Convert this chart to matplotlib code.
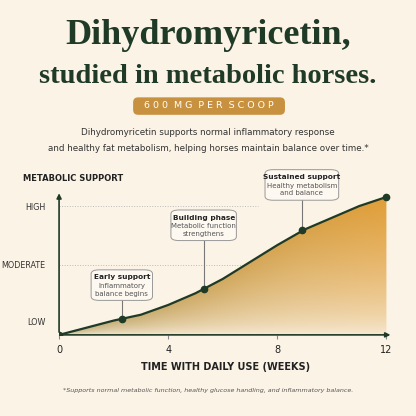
import numpy as np
import matplotlib.pyplot as plt
from matplotlib.patches import FancyBboxPatch, Polygon

weeks = [0, 1, 2, 3, 4, 5, 6, 7, 8, 9, 10, 11, 12]
support = [0, 0.55, 1.1, 1.55, 2.3, 3.2, 4.3, 5.6, 6.9, 8.1, 9.0, 9.9, 10.6]
marker_x = [0, 2.3, 5.3, 8.9, 12]
marker_y = [0, 1.2, 3.5, 8.1, 10.6]
level_labels = ['LOW', 'MODERATE', 'HIGH']
level_values = [1.0, 5.4, 9.9]
x_ticks = [0, 4, 8, 12]
# title, body, point x, point y, box top, box width
notes = [('Early support', 'Inflammatory\nbalance begins', 2.3, 1.2, 5.0, 2.25),
         ('Building phase', 'Metabolic function\nstrengthens', 5.3, 3.5, 9.6, 2.4),
         ('Sustained support', 'Healthy metabolism\nand balance', 8.9, 8.1, 12.7, 2.7)]

BG = '#FBF3E6'
GREEN = '#1F3A26'
GOLD = '#C8913F'

fig = plt.figure(figsize=(4.16, 4.16), dpi=100, facecolor=BG)
fig.text(0.5, 0.915, 'Dihydromyricetin,', ha='center', va='center', family='Liberation Serif',
         fontsize=26, color=GREEN, fontweight='bold')
fig.text(0.5, 0.815, 'studied in metabolic horses.', ha='center', va='center', family='Liberation Serif',
         fontsize=20.5, color=GREEN, fontweight='bold')
fig.patches.append(FancyBboxPatch((0.32, 0.724), 0.365, 0.042, boxstyle='round,pad=0,rounding_size=0.012',
                                  transform=fig.transFigure, facecolor=GOLD, edgecolor='none'))
fig.text(0.503, 0.746, '6 0 0  M G  P E R  S C O O P', ha='center', va='center', fontsize=6.8,
         color='white')
fig.text(0.5, 0.682, 'Dihydromyricetin supports normal inflammatory response', ha='center', va='center',
         fontsize=6.3, color='#333333')
fig.text(0.5, 0.643, 'and healthy fat metabolism, helping horses maintain balance over time.*', ha='center',
         va='center', fontsize=6.3, color='#333333')

ax = fig.add_axes([0.142, 0.195, 0.80, 0.344])
ax.set_facecolor(BG)
ax.set_xlim(0, 12.2)
ax.set_ylim(0, 11)
for s in ax.spines.values():
    s.set_visible(False)

# gradient fill under curve: hue shifts tan -> orange, fades toward the bottom
n = 256
gx = np.linspace(0, 12, n)
gy = np.linspace(0, 10.6, n)
X, Y = np.meshgrid(gx, gy)
top = np.maximum(np.interp(X, weeks, support), 0.3)
depth = np.clip(Y / top, 0, 1) ** 0.6
h = X / 12
dark = np.stack([0.76 + 0.12 * h, 0.70 - 0.08 * h, 0.52 - 0.30 * h], axis=-1)
pale = np.array([0.97, 0.93, 0.86])
img = pale + (dark - pale) * depth[..., None]
im = ax.imshow(img, extent=[0, 12, 0, 10.6], origin='lower', aspect='auto', zorder=1)
poly = Polygon(list(zip(weeks, support)) + [(12, 0), (0, 0)], closed=True, transform=ax.transData,
               facecolor='none', edgecolor='none')
ax.add_patch(poly)
im.set_clip_path(poly)

ax.plot(weeks, support, color=GREEN, lw=1.6, zorder=3)
ax.plot(marker_x, marker_y, 'o', color=GREEN, ms=4.5, zorder=4)

ax.hlines(level_values[1], 0, 7.0, colors='#bbbbbb', linestyles=':', lw=0.7, zorder=0)
ax.hlines(level_values[2], 0, 7.3, colors='#bbbbbb', linestyles=':', lw=0.7, zorder=0)

ax.annotate('', xy=(12.25, 0), xytext=(0, 0), arrowprops=dict(arrowstyle='-|>', color=GREEN, lw=1.2,
            mutation_scale=7), annotation_clip=False)
ax.annotate('', xy=(0, 11.1), xytext=(0, 0), arrowprops=dict(arrowstyle='-|>', color=GREEN, lw=1.2,
            mutation_scale=7), annotation_clip=False)

ax.set_xticks(x_ticks)
ax.set_xticklabels([str(v) for v in x_ticks], fontsize=7, color='#222222')
ax.tick_params(axis='x', length=3, color='#888888', pad=4)
ax.set_yticks(level_values)
ax.set_yticklabels(level_labels, fontsize=5.8, color='#333333')
ax.tick_params(axis='y', length=0, pad=10)
ax.set_xlabel('TIME WITH DAILY USE (WEEKS)', fontsize=7, fontweight='bold', color='#222222', labelpad=5)

box_h = 2.35
for title, body, px, py, by, box_w in notes:
    ax.plot([px, px], [py, by - box_h], color='#777777', lw=0.8, zorder=2, clip_on=False)
    ax.add_patch(FancyBboxPatch((px - box_w / 2, by - box_h), box_w, box_h,
                                boxstyle='round,pad=0,rounding_size=0.3', fc='#FDF8F0', ec='#999999',
                                lw=0.7, zorder=5, clip_on=False))
    ax.text(px, by - 0.35, title, ha='center', va='top', fontsize=5.3, color='#222222', fontweight='bold',
            zorder=6, clip_on=False)
    ax.text(px, by - 1.0, body, ha='center', va='top', fontsize=5, color='#555555', linespacing=1.35,
            zorder=6, clip_on=False)

fig.text(0.055, 0.572, 'METABOLIC SUPPORT', fontsize=6, fontweight='bold', color='#222222', va='center')
fig.text(0.5, 0.062, '*Supports normal metabolic function, healthy glucose handling, and inflammatory balance.',
         ha='center', va='center', fontsize=4.6, style='italic', color='#555555')

fig.savefig('out.png', dpi=100, facecolor=BG)
